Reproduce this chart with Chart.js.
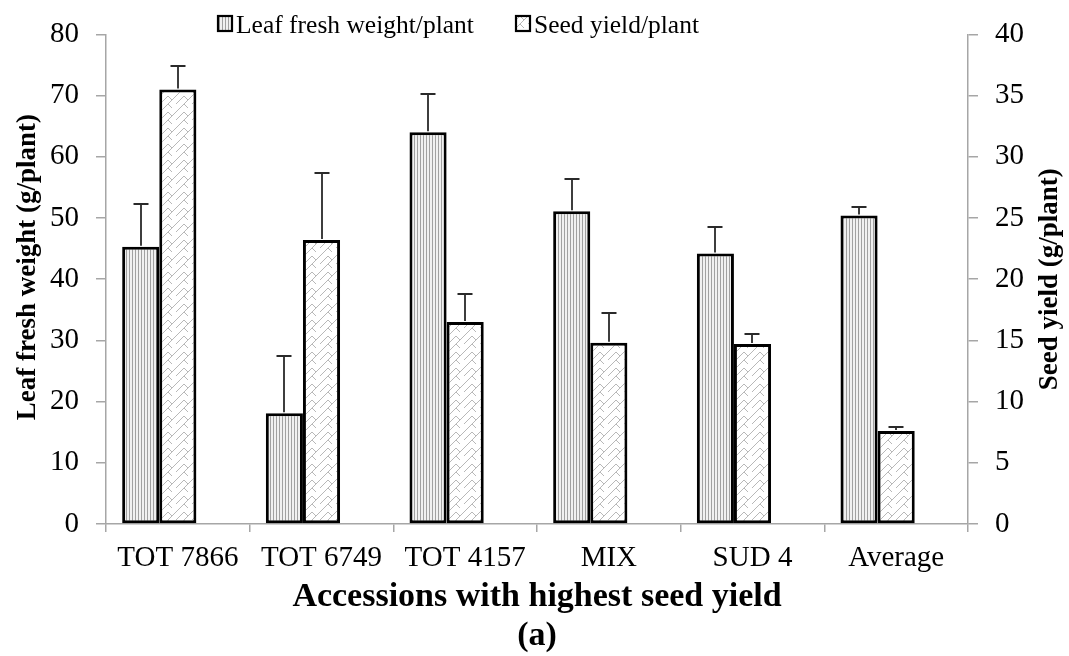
<!DOCTYPE html>
<html>
<head>
<meta charset="utf-8">
<script src="https://cdn.jsdelivr.net/npm/chart.js@4"></script>
<style>
html,body{margin:0;padding:0;background:#fff;}
#wrap{width:1069px;height:656px;position:relative;}
</style>
</head>
<body>
<div id="wrap"><canvas id="c"></canvas></div>
<script>
const categories = ['TOT 7866', 'TOT 6749', 'TOT 4157', 'MIX', 'SUD 4', 'Average'];
const seriesNames = ['Leaf fresh weight/plant', 'Seed yield/plant'];
const leafWeight = [45.3, 18.1, 64.0, 51.1, 44.2, 50.4];
const leafError = [7.0, 9.4, 6.2, 5.3, 4.3, 1.4];
const seedYield = [35.5, 23.2, 16.5, 14.8, 14.7, 7.6];
const seedError = [1.9, 5.5, 2.3, 2.4, 0.8, 0.35];
const leftTicks = [0, 10, 20, 30, 40, 50, 60, 70, 80];
const rightTicks = [0, 5, 10, 15, 20, 25, 30, 35, 40];
const leftTitleText = 'Leaf fresh weight (g/plant)';
const rightTitleText = 'Seed yield (g/plant)';
const xTitle = ['Accessions with highest seed yield', '(a)'];

const FONT = "'Liberation Serif', 'Times New Roman', serif";

function stripePattern() {
  const c = document.createElement('canvas');
  c.width = 3; c.height = 3;
  const g = c.getContext('2d');
  g.fillStyle = '#f0f0f0'; g.fillRect(0, 0, 3, 3);
  g.fillStyle = '#a0a0a0'; g.fillRect(0, 0, 1, 3);
  return g.createPattern(c, 'repeat');
}
function brickPattern() {
  const s = 16;
  const c = document.createElement('canvas');
  c.width = s; c.height = s;
  const g = c.getContext('2d');
  g.fillStyle = '#ffffff'; g.fillRect(0, 0, s, s);
  g.strokeStyle = '#b8b8b8'; g.lineWidth = 1;
  g.beginPath();
  for (const ox of [-s, 0, s]) {
    for (const oy of [-s, 0, s]) {
      g.moveTo(ox + 0, oy + 16); g.lineTo(ox + 16, oy + 0);
      g.moveTo(ox + 0, oy + 8); g.lineTo(ox + 8, oy + 0);
      g.moveTo(ox + 8, oy + 0); g.lineTo(ox + 12, oy + 4);
      g.moveTo(ox + 8, oy + 8); g.lineTo(ox + 12, oy + 12);
    }
  }
  g.stroke();
  return g.createPattern(c, 'repeat');
}

const leafFill = stripePattern();
const seedFill = brickPattern();

const errorBars = {
  id: 'errorBars',
  afterDatasetsDraw(chart) {
    const ctx = chart.ctx;
    const sets = [[0, leafWeight, leafError, 'y'], [1, seedYield, seedError, 'y1']];
    ctx.save();
    ctx.strokeStyle = '#2a2a2a';
    ctx.lineWidth = 1.8;
    sets.forEach(([idx, vals, errs, axis]) => {
      const meta = chart.getDatasetMeta(idx);
      const sc = chart.scales[axis];
      meta.data.forEach((bar, j) => {
        const x = Math.round(bar.x);
        const y0 = sc.getPixelForValue(vals[j]) - 1;
        const y1 = Math.round(sc.getPixelForValue(vals[j] + errs[j]));
        ctx.beginPath();
        ctx.moveTo(x, y0); ctx.lineTo(x, y1);
        ctx.moveTo(x - 7.5, y1); ctx.lineTo(x + 7.5, y1);
        ctx.stroke();
      });
    });
    ctx.restore();
  }
};

const extras = {
  id: 'extras',
  afterDraw(chart) {
    const ctx = chart.ctx;
    const a = chart.chartArea;
    ctx.save();
    ctx.font = 'bold 27px ' + FONT;
    ctx.fillStyle = '#000';
    ctx.textAlign = 'center';
    ctx.textBaseline = 'middle';
    // left axis title (bottom to top)
    ctx.save();
    ctx.translate(28.5, (a.top + a.bottom) / 2 - 12);
    ctx.rotate(-Math.PI / 2);
    ctx.fillText(leftTitleText, 0, 0);
    ctx.restore();
    // right axis title (bottom to top)
    ctx.save();
    ctx.translate(1050, (a.top + a.bottom) / 2);
    ctx.rotate(-Math.PI / 2);
    ctx.fillText(rightTitleText, 0, 0);
    ctx.restore();
    ctx.restore();

    const items = [
      { text: chart.data.datasets[0].label, fill: chart.data.datasets[0].backgroundColor, boxX: 218 },
      { text: chart.data.datasets[1].label, fill: chart.data.datasets[1].backgroundColor, boxX: 516 }
    ];
    ctx.save();
    ctx.font = '25.5px ' + FONT;
    ctx.textBaseline = 'alphabetic';
    ctx.textAlign = 'left';
    items.forEach(it => {
      ctx.fillStyle = it.fill;
      ctx.fillRect(it.boxX, 16, 14, 15);
      ctx.strokeStyle = '#000';
      ctx.lineWidth = 2.2;
      ctx.strokeRect(it.boxX, 16, 14, 15);
      ctx.fillStyle = '#000';
      ctx.fillText(it.text, it.boxX + 18, 33);
    });
    ctx.restore();
  }
};

new Chart(document.getElementById('c'), {
  type: 'bar',
  data: {
    labels: categories,
    datasets: [
      { label: seriesNames[0], data: leafWeight, yAxisID: 'y',
        backgroundColor: leafFill, borderColor: '#000', borderWidth: 3, borderSkipped: false },
      { label: seriesNames[1], data: seedYield, yAxisID: 'y1',
        backgroundColor: seedFill, borderColor: '#000', borderWidth: 3, borderSkipped: false },
      { label: '', data: categories.map(() => null), yAxisID: 'y',
        backgroundColor: 'rgba(0,0,0,0)', borderWidth: 0 }
    ]
  },
  options: {
    responsive: true,
    maintainAspectRatio: false,
    animation: false,
    devicePixelRatio: 1,
    layout: { padding: { top: 32, right: 46, left: 50, bottom: 0 } },
    datasets: { bar: { categoryPercentage: 0.775, barPercentage: 1.0 } },
    plugins: {
      legend: { display: false },
      tooltip: { enabled: false }
    },
    scales: {
      x: {
        afterFit: (s) => { s.height -= 10; },
        grid: { display: true, drawOnChartArea: false, color: '#a6a6a6', tickLength: 8, offset: true, lineWidth: 1.5 },
        border: { color: '#a6a6a6', width: 1.5 },
        ticks: { font: { family: FONT, size: 29 }, color: '#000', padding: 9, maxRotation: 0, autoSkip: false },
        title: {
          display: true,
          text: xTitle,
          font: { family: FONT, size: 34, weight: 'bold', lineHeight: 1.15 },
          color: '#000',
          padding: { top: 3, bottom: 0 }
        }
      },
      y: {
        position: 'left',
        min: 0, max: 80,
        afterBuildTicks: (s) => { s.ticks = leftTicks.map(v => ({ value: v })); },
        afterFit: (s) => { s.width = 56; },
        grid: { display: true, drawOnChartArea: false, color: '#a6a6a6', tickLength: 10, lineWidth: 1.5 },
        border: { color: '#a6a6a6', width: 1.5 },
        ticks: { font: { family: FONT, size: 29 }, color: '#000', padding: 17 }
      },
      y1: {
        position: 'right',
        min: 0, max: 40,
        afterBuildTicks: (s) => { s.ticks = rightTicks.map(v => ({ value: v })); },
        afterFit: (s) => { s.width -= 18; },
        grid: { display: true, drawOnChartArea: false, color: '#a6a6a6', tickLength: 10, lineWidth: 1.5 },
        border: { color: '#a6a6a6', width: 1.5 },
        ticks: { font: { family: FONT, size: 29 }, color: '#000', padding: 17 }
      }
    }
  },
  plugins: [errorBars, extras]
});
</script>
</body>
</html>
